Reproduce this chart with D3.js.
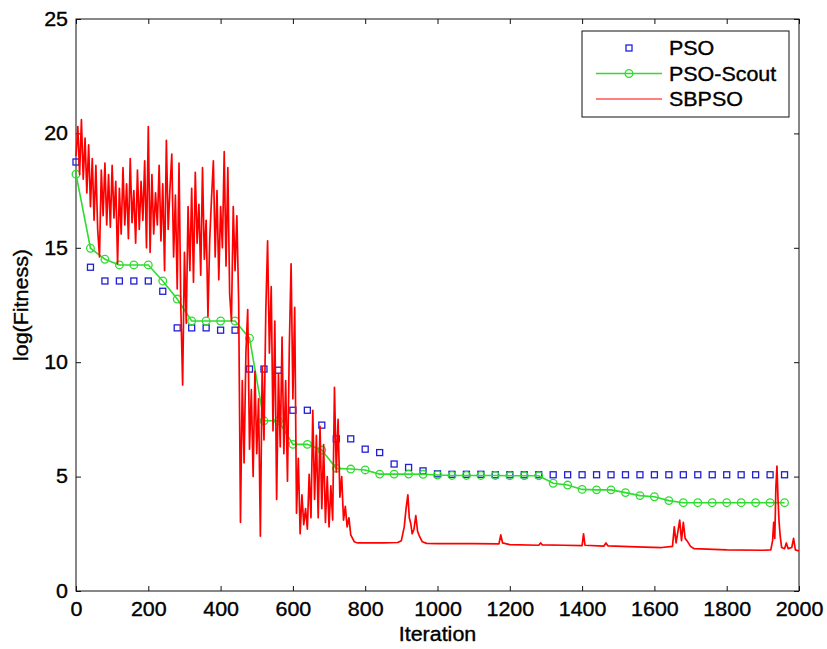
<!DOCTYPE html>
<html>
<head>
<meta charset="utf-8">
<script src="https://cdn.jsdelivr.net/npm/d3@7"></script>
<style>
  body { margin:0; background:#fff; }
  text { font-family: "Liberation Sans", Arial, Helvetica, sans-serif; fill:#000; stroke:#000; stroke-width:0.35px; }
</style>
</head>
<body>
<div class="viz"></div>
<script>
const width = 827;
const height = 649;
const margin = {top:19, left:76, bottom:58, right:28};
const fontSize = 19.5;
const stretch = 1.1; // the figure text is a bit wider than Arial

// iterations where PSO / PSO-Scout markers are drawn
const markerIters = [0,40,80,120,160,200,240,280,320,360,400,440,480,520,560,600,640,680,720,760,
  800,840,880,920,960,1000,1040,1080,1120,1160,1200,1240,1280,1320,1360,1400,1440,1480,1520,1560,
  1600,1640,1680,1720,1760,1800,1840,1880,1920,1960];

const psoValues = [18.75,14.15,13.55,13.55,13.55,13.55,13.1,11.5,11.5,11.5,11.4,11.4,9.7,9.7,9.65,
  7.9,7.9,7.25,6.65,6.65,6.2,6.05,5.55,5.4,5.25,5.12,5.1,5.1,5.1,5.08,5.08,5.08,5.08,5.08,5.08,5.08,
  5.08,5.08,5.08,5.08,5.08,5.08,5.08,5.08,5.08,5.08,5.08,5.08,5.08,5.08];

const scoutValues = [18.22,14.98,14.5,14.25,14.25,14.25,13.55,12.76,11.8,11.8,11.8,11.8,11.05,7.44,7.44,
  6.41,6.41,6.16,5.36,5.33,5.29,5.11,5.11,5.11,5.1,5.07,5.05,5.05,5.05,5.05,5.04,5.04,5.04,4.71,4.63,
  4.44,4.42,4.42,4.3,4.17,4.12,3.95,3.86,3.86,3.86,3.86,3.86,3.86,3.86,3.86];

// SBPSO, first 780 iterations read every 5 iterations
const sbpsoStep = 5;
const sbpsoEarly = [19.0,20.3,18.2,20.6,18.0,19.8,17.4,19.5,16.8,18.9,16.2,18.6,15.8,14.6,18.4,16.4,
  18.7,16.0,18.2,15.9,18.6,16.3,17.9,14.3,17.6,15.6,18.5,16.0,17.8,15.4,18.9,16.1,17.5,15.2,18.4,15.8,
  17.9,16.2,18.8,15.0,20.3,14.8,18.2,15.6,17.4,16.0,18.6,15.3,17.8,14.0,19.7,15.8,17.6,19.1,14.6,17.3,
  13.2,18.7,12.4,9.0,14.8,11.7,16.8,14.0,17.6,13.5,18.3,15.2,16.9,13.8,18.5,14.5,16.2,12.0,15.4,17.2,
  18.8,14.6,17.5,13.6,16.8,15.0,19.2,14.2,18.5,13.0,11.8,16.8,14.0,16.4,12.6,3.0,9.2,5.6,10.4,12.3,
  6.2,8.8,5.0,9.6,6.0,8.4,2.4,9.8,6.6,12.2,15.3,10.4,13.3,7.0,11.8,4.0,9.5,6.3,11.1,6.0,9.2,4.8,10.6,
  14.3,8.4,12.4,3.4,5.8,2.5,4.2,2.9,3.6,2.7,5.1,3.2,7.9,4.0,6.8,3.2,7.2,3.6,6.4,3.0,5.0,2.8,4.6,3.1,
  8.9,5.2,7.5,4.1,5.0,3.1,3.7,2.8,3.2,2.45,2.3,2.15,2.12,2.1];

// SBPSO after convergence: [iteration, value]
const sbpsoLate = [[800,2.1],[850,2.1],[890,2.12],[900,2.2],[908,2.8],[913,3.6],[918,4.2],[922,3.2],
  [926,2.95],[930,2.5],[935,2.7],[940,3.3],[945,2.6],[950,2.4],[958,2.15],[970,2.08],[1000,2.07],
  [1100,2.07],[1170,2.06],[1175,2.45],[1180,2.1],[1200,2.03],[1280,2.0],[1285,2.1],[1290,2.02],
  [1350,2.0],[1400,1.98],[1404,2.5],[1408,2.0],[1460,1.96],[1466,2.1],[1472,1.97],[1550,1.93],
  [1620,1.9],[1650,1.95],[1655,2.8],[1660,2.1],[1665,2.6],[1670,3.1],[1675,2.2],[1680,3.0],[1685,2.3],
  [1690,2.2],[1700,1.95],[1710,1.85],[1800,1.8],[1900,1.78],[1922,1.8],[1927,2.2],[1930,3.0],
  [1933,2.3],[1936,4.5],[1939,5.46],[1942,4.0],[1945,3.0],[1948,2.4],[1952,1.9],[1960,1.85],
  [1965,2.1],[1970,1.85],[1980,1.9],[1985,2.3],[1990,1.8],[2000,1.75]];

const xTicks = [0,200,400,600,800,1000,1200,1400,1600,1800,2000];
const yTicks = [0,5,10,15,20,25];
const seriesNames = ['PSO','PSO-Scout','SBPSO'];

const colours = {pso:'#1f1fd6', scout:'#2fdc2f', sbpso:'#ff0000'};

const x = d3.scaleLinear().domain([0,2000]).range([margin.left, width-margin.right]);
const y = d3.scaleLinear().domain([0,25]).range([height-margin.bottom, margin.top]);

const svg = d3.select('.viz').append('svg')
  .attr('width', width)
  .attr('height', height);

// axes, ticks pointing inward like the matlab box
svg.append('g')
  .attr('transform', `translate(0,${y(0)})`)
  .call(d3.axisBottom(x).tickValues(xTicks).tickFormat(d3.format('d'))
    .tickSizeInner(-5).tickSizeOuter(0).tickPadding(11))
  .call(g=>g.select('.domain').remove())
  .call(g=>g.selectAll('text')
    .attr('font-size', fontSize)
    .attr('transform', `scale(${stretch},1)`));

svg.append('g')
  .attr('transform', `translate(${x(0)},0)`)
  .call(d3.axisLeft(y).tickValues(yTicks).tickSizeInner(-5).tickSizeOuter(0).tickPadding(8))
  .call(g=>g.select('.domain').remove())
  .call(g=>g.selectAll('text')
    .attr('font-size', fontSize)
    .attr('x', -8/stretch)
    .attr('transform', `scale(${stretch},1)`));

svg.append('g')
  .attr('transform', `translate(0,${y(25)})`)
  .call(d3.axisTop(x).tickValues(xTicks).tickSizeInner(-5).tickSizeOuter(0).tickFormat(''))
  .call(g=>g.select('.domain').remove());

svg.append('g')
  .attr('transform', `translate(${x(2000)},0)`)
  .call(d3.axisRight(y).tickValues(yTicks).tickSizeInner(-5).tickSizeOuter(0).tickFormat(''))
  .call(g=>g.select('.domain').remove());

svg.selectAll('.tick line').attr('stroke', '#111');

svg.append('rect')
  .attr('x', x(0))
  .attr('y', y(25))
  .attr('width', x(2000)-x(0))
  .attr('height', y(0)-y(25))
  .attr('fill', 'none')
  .attr('stroke', '#111')
  .attr('stroke-width', 1);

// series
const plot = svg.append('g').attr('class','plot');

plot.selectAll('rect.pso')
  .data(markerIters.map((it,i)=>[it, psoValues[i]]))
  .enter()
  .append('rect')
    .attr('class','pso')
    .attr('x', d=>x(d[0])-3)
    .attr('y', d=>y(d[1])-3)
    .attr('width', 6)
    .attr('height', 6)
    .attr('fill', 'none')
    .attr('stroke', colours.pso)
    .attr('stroke-width', 1.3);

const scoutData = markerIters.map((it,i)=>[it, scoutValues[i]]);
const line = d3.line().x(d=>x(d[0])).y(d=>y(d[1]));

plot.append('path')
  .datum(scoutData)
  .attr('d', line)
  .attr('fill','none')
  .attr('stroke', colours.scout)
  .attr('stroke-width', 1.6);

plot.selectAll('circle.scout')
  .data(scoutData)
  .enter()
  .append('circle')
    .attr('class','scout')
    .attr('cx', d=>x(d[0]))
    .attr('cy', d=>y(d[1]))
    .attr('r', 3.8)
    .attr('fill','none')
    .attr('stroke', colours.scout)
    .attr('stroke-width', 1.3);

const sbpsoData = sbpsoEarly.map((v,i)=>[i*sbpsoStep, v]).concat(sbpsoLate);

plot.append('path')
  .datum(sbpsoData)
  .attr('d', line)
  .attr('fill','none')
  .attr('stroke', colours.sbpso)
  .attr('stroke-width', 1.7)
  .attr('stroke-linejoin','round');

// legend
const legend = svg.append('g').attr('class','legend');
legend.append('rect')
  .attr('x', 582).attr('y', 31)
  .attr('width', 207).attr('height', 86)
  .attr('fill','#fff')
  .attr('stroke','#111')
  .attr('stroke-width', 1);

const rows = legend.selectAll('g.row')
  .data(seriesNames)
  .enter()
  .append('g')
    .attr('class','row')
    .attr('transform', (d,i)=>`translate(0,${48 + i*25.5})`);

rows.filter((d,i)=>i>0)
  .append('line')
    .attr('x1', 596).attr('x2', 662)
    .attr('y1', 0).attr('y2', 0)
    .attr('stroke', (d,i)=>i===0 ? colours.scout : colours.sbpso)
    .attr('stroke-width', (d,i)=>i===0 ? 1.6 : 1.2);

rows.filter((d,i)=>i===0)
  .append('rect')
    .attr('x', 626).attr('y', -3)
    .attr('width', 6).attr('height', 6)
    .attr('fill','none')
    .attr('stroke', colours.pso)
    .attr('stroke-width', 1.3);

rows.filter((d,i)=>i===1)
  .append('circle')
    .attr('cx', 629).attr('cy', 0).attr('r', 3.8)
    .attr('fill','none')
    .attr('stroke', colours.scout)
    .attr('stroke-width', 1.3);

rows.append('text')
  .attr('transform', `translate(669,7) scale(1.1,1)`)
  .attr('font-size', 19.5)
  .text(d=>d);

// axis titles
svg.append('text')
  .attr('transform', `translate(${(x(0)+x(2000))/2},641) scale(${stretch},1)`)
  .attr('text-anchor','middle')
  .attr('font-size', fontSize)
  .text('Iteration');

svg.append('text')
  .attr('transform', `translate(28,305) rotate(-90) scale(${stretch},1)`)
  .attr('text-anchor','middle')
  .attr('font-size', fontSize)
  .text('log(Fitness)');
</script>
</body>
</html>
